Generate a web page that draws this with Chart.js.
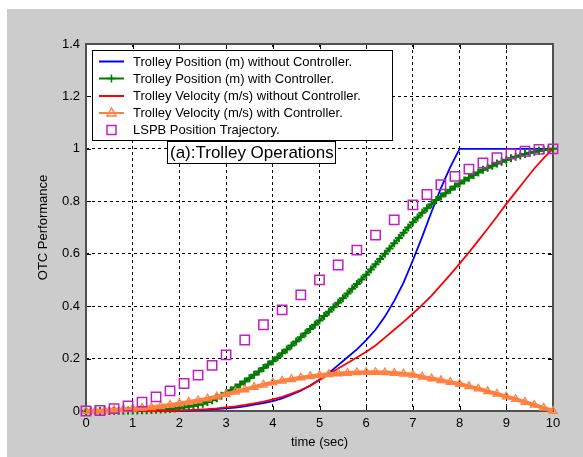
<!DOCTYPE html>
<html>
<head>
<meta charset="utf-8">
<script src="https://cdn.jsdelivr.net/npm/chart.js@4"></script>
<style>
  html, body { margin: 0; padding: 0; background: #fff; }
</style>
</head>
<body>
<canvas id="otcChart" width="583" height="457"></canvas>
<script>
// time bases (sec)
const timeFine = [0,0.1,0.2,0.3,0.4,0.5,0.6,0.7,0.8,0.9,
  1,1.1,1.2,1.3,1.4,1.5,1.6,1.7,1.8,1.9,
  2,2.1,2.2,2.3,2.4,2.5,2.6,2.7,2.8,2.9,
  3,3.1,3.2,3.3,3.4,3.5,3.6,3.7,3.8,3.9,
  4,4.1,4.2,4.3,4.4,4.5,4.6,4.7,4.8,4.9,
  5,5.1,5.2,5.3,5.4,5.5,5.6,5.7,5.8,5.9,
  6,6.1,6.2,6.3,6.4,6.5,6.6,6.7,6.8,6.9,
  7,7.1,7.2,7.3,7.4,7.5,7.6,7.7,7.8,7.9,
  8,8.1,8.2,8.3,8.4,8.5,8.6,8.7,8.8,8.9,
  9,9.1,9.2,9.3,9.4,9.5,9.6,9.7,9.8,9.9,
  10];
const timeCoarse = [0,0.2,0.4,0.6,0.8,1,1.2,1.4,1.6,1.8,
  2,2.2,2.4,2.6,2.8,3,3.2,3.4,3.6,3.8,
  4,4.2,4.4,4.6,4.8,5,5.2,5.4,5.6,5.8,
  6,6.2,6.4,6.6,6.8,7,7.2,7.4,7.6,7.8,
  8,8.2,8.4,8.6,8.8,9,9.2,9.4,9.6,9.8,
  10];
const lspbTime = [0,0.3,0.6,0.9,1.2,1.5,1.8,2.1,2.4,2.7,3,
  3.4,3.8,4.2,4.6,5,5.4,5.8,6.2,6.6,7,
  7.3,7.6,7.9,8.2,8.5,8.8,9.1,9.4,9.7,10];

// series
const posNoCtrl = [0,0,0,0,0,0,0,0,0,0.001,
  0.001,0.002,0.003,0.005,0.007,0.01,0.013,0.018,0.024,0.03,
  0.038,0.048,0.062,0.077,0.097,0.12,0.145,0.175,0.205,0.235,
  0.27,0.31,0.36,0.42,0.49,0.575,0.665,0.76,0.85,0.93,
  1,1,1,1,1,1,1,1,1,1,
  1];
const posWithCtrl = [0,0,0,0,0,0,0.001,0.001,0.001,0.002,
  0.002,0.002,0.003,0.003,0.004,0.005,0.006,0.007,0.008,0.01,
  0.012,0.014,0.017,0.02,0.024,0.028,0.034,0.041,0.049,0.058,
  0.068,0.079,0.09,0.101,0.113,0.125,0.138,0.151,0.164,0.177,
  0.19,0.205,0.22,0.235,0.25,0.265,0.281,0.297,0.313,0.329,
  0.345,0.362,0.379,0.396,0.413,0.43,0.448,0.466,0.484,0.502,
  0.52,0.54,0.56,0.58,0.6,0.62,0.64,0.66,0.68,0.7,
  0.72,0.738,0.756,0.773,0.789,0.805,0.818,0.831,0.844,0.856,
  0.868,0.879,0.89,0.9,0.91,0.92,0.928,0.936,0.944,0.951,
  0.958,0.964,0.97,0.975,0.98,0.985,0.989,0.993,0.996,0.998,
  1];
const velNoCtrl = [0,0,0,0,0,0,0,0,0,0.001,
  0.002,0.003,0.005,0.007,0.01,0.014,0.018,0.023,0.029,0.036,
  0.044,0.054,0.066,0.08,0.096,0.118,0.14,0.162,0.183,0.204,
  0.226,0.25,0.28,0.31,0.34,0.372,0.405,0.44,0.48,0.52,
  0.562,0.605,0.65,0.695,0.742,0.79,0.835,0.88,0.925,0.965,
  1];
const velWithCtrl = [0,0.001,0.002,0.004,0.006,0.008,0.011,0.014,0.018,0.023,
  0.028,0.034,0.04,0.047,0.055,0.064,0.073,0.082,0.091,0.1,
  0.108,0.115,0.121,0.127,0.132,0.136,0.14,0.143,0.145,0.147,
  0.148,0.148,0.147,0.145,0.142,0.138,0.13,0.124,0.117,0.11,
  0.103,0.094,0.085,0.075,0.065,0.055,0.045,0.034,0.023,0.012,
  0];
const lspbPos = [0,0.002,0.009,0.019,0.034,0.054,0.077,0.105,0.137,0.174,0.214,
  0.271,0.329,0.386,0.443,0.5,0.557,0.614,0.671,0.729,0.786,
  0.826,0.863,0.895,0.923,0.946,0.966,0.981,0.991,0.998,1];

const seriesNames = [
  'Trolley Position (m) without Controller.',
  'Trolley Position (m) with Controller.',
  'Trolley Velocity (m/s) without Controller.',
  'Trolley Velocity (m/s) with Controller.',
  'LSPB Position Trajectory.'
];
const xTickLabels = ['0','1','2','3','4','5','6','7','8','9','10'];
const yTickLabels = ['0','0.2','0.4','0.6','0.8','1','1.2','1.4'];
const panelNote = '(a):Trolley Operations';

const FONT = "'Liberation Sans', Arial, sans-serif";
Chart.defaults.font.family = FONT;
Chart.defaults.color = '#000';

function pairs(xs, ys) {
  return xs.map((t, i) => ({x: t, y: ys[i]}));
}

// marker helpers, used for the legend samples
function drawMarker(ctx, style, x, y, color) {
  ctx.save();
  ctx.strokeStyle = color;
  ctx.lineWidth = 1.5;
  ctx.beginPath();
  if (style === 'cross') {
    ctx.moveTo(x - 4, y); ctx.lineTo(x + 4, y);
    ctx.moveTo(x, y - 4); ctx.lineTo(x, y + 4);
  } else if (style === 'triangle') {
    ctx.moveTo(x, y - 5); ctx.lineTo(x + 4.5, y + 3); ctx.lineTo(x - 4.5, y + 3); ctx.closePath();
  } else if (style === 'rect') {
    ctx.rect(x - 4.5, y - 4.5, 9, 9);
  }
  ctx.stroke();
  ctx.restore();
}

const background = {
  id: 'background',
  beforeDraw(chart) {
    const {ctx, chartArea: a} = chart;
    ctx.save();
    ctx.fillStyle = '#fff';
    ctx.fillRect(0, 0, chart.width, chart.height);
    ctx.fillStyle = '#cccccc';
    ctx.fillRect(7, 9, chart.width - 7, chart.height - 9);
    ctx.fillStyle = '#fff';
    ctx.fillRect(a.left, a.top, a.right - a.left, a.bottom - a.top);
    ctx.restore();
  }
};

const frame = {
  id: 'frame',
  beforeDatasetsDraw(chart) {
    const {ctx, chartArea: a, scales} = chart;
    ctx.save();
    ctx.strokeStyle = '#000';
    ctx.lineWidth = 1;
    ctx.beginPath();
    for (let i = 1; i < xTickLabels.length - 1; i++) {
      const px = Math.round(scales.x.getPixelForValue(+xTickLabels[i])) + 0.5;
      ctx.moveTo(px, a.bottom); ctx.lineTo(px, a.bottom - 5);
      ctx.moveTo(px, a.top); ctx.lineTo(px, a.top + 5);
    }
    for (let i = 1; i < yTickLabels.length - 1; i++) {
      const py = Math.round(scales.y.getPixelForValue(+yTickLabels[i])) + 0.5;
      ctx.moveTo(a.left, py); ctx.lineTo(a.left + 5, py);
      ctx.moveTo(a.right, py); ctx.lineTo(a.right - 5, py);
    }
    ctx.stroke();
    ctx.strokeStyle = '#505050';
    ctx.lineWidth = 2;
    ctx.strokeRect(a.left, a.top, a.right - a.left, a.bottom - a.top);
    ctx.restore();
  }
};

const legendBox = {
  id: 'legendBox',
  afterDraw(chart) {
    const ctx = chart.ctx;
    const sets = chart.data.datasets;
    ctx.save();
    ctx.fillStyle = '#fff';
    ctx.fillRect(92, 50, 301, 91);
    ctx.strokeStyle = '#000';
    ctx.lineWidth = 1;
    ctx.strokeRect(92.5, 50.5, 300, 90);
    const rows = [61.5, 78.5, 96, 113, 130];
    ctx.font = '13px ' + FONT;
    ctx.textBaseline = 'middle';
    sets.forEach((ds, i) => {
      const y = rows[i];
      if (ds.showLine !== false) {
        ctx.strokeStyle = ds.borderColor;
        ctx.lineWidth = 2;
        ctx.beginPath();
        ctx.moveTo(99, y); ctx.lineTo(124, y);
        ctx.stroke();
      }
      if (ds.pointRadius > 0) drawMarker(ctx, ds.pointStyle, 111.5, y, ds.pointBorderColor);
      ctx.fillStyle = '#000';
      ctx.fillText(seriesNames[i], 133, y + 0.5);
    });

    // panel note
    ctx.fillStyle = '#fff';
    ctx.fillRect(167, 141, 169, 23);
    ctx.strokeStyle = '#000';
    ctx.lineWidth = 1;
    ctx.strokeRect(167.5, 141.5, 168, 22);
    ctx.fillStyle = '#000';
    ctx.font = '17px ' + FONT;
    ctx.fillText(panelNote, 170, 153);
    ctx.restore();
  }
};

new Chart(document.getElementById('otcChart'), {
  type: 'line',
  data: {
    datasets: [{
      data: pairs(timeCoarse, posNoCtrl),
      borderColor: '#0000ff',
      backgroundColor: '#0000ff',
      borderWidth: 1.8,
      pointRadius: 0,
      order: 4,
      clip: false
    }, {
      data: pairs(timeFine, posWithCtrl),
      borderColor: '#007a00',
      backgroundColor: '#007a00',
      borderWidth: 2.5,
      pointStyle: 'cross',
      pointRadius: 4,
      pointBorderWidth: 2,
      pointBorderColor: '#007a00',
      order: 3,
      clip: false
    }, {
      data: pairs(timeCoarse, velNoCtrl),
      borderColor: '#ff0000',
      backgroundColor: '#ff0000',
      borderWidth: 1.8,
      pointRadius: 0,
      order: 2,
      clip: false
    }, {
      data: pairs(timeCoarse, velWithCtrl),
      borderColor: '#ff8040',
      backgroundColor: 'rgba(255,255,255,0)',
      borderWidth: 4,
      pointStyle: 'triangle',
      pointRadius: 4.5,
      pointBorderWidth: 1.3,
      pointBorderColor: '#ff8040',
      pointBackgroundColor: 'rgba(255,255,255,0)',
      order: 1,
      clip: false
    }, {
      data: pairs(lspbTime, lspbPos),
      showLine: false,
      borderColor: '#c020c0',
      backgroundColor: 'rgba(255,255,255,0)',
      pointStyle: 'rect',
      pointRadius: 6.6,
      pointBorderWidth: 1.5,
      pointBorderColor: '#c020c0',
      pointBackgroundColor: 'rgba(255,255,255,0)',
      order: 0,
      clip: false
    }]
  },
  options: {
    responsive: false,
    animation: false,
    events: [],
    layout: { padding: { left: 0, top: 44, right: 30, bottom: 0 } },
    plugins: {
      legend: { display: false },
      tooltip: { enabled: false }
    },
    scales: {
      x: {
        type: 'linear',
        min: 0,
        max: 10,
        afterFit: s => { s.height = 46; },
        ticks: {
          stepSize: 1,
          padding: 5,
          font: { size: 13 },
          maxRotation: 0,
          callback: v => xTickLabels[Math.round(v)]
        },
        grid: { color: '#000', lineWidth: 1, drawTicks: false },
        border: { display: false, dash: [3, 3] },
        title: {
          display: true,
          text: 'time (sec)',
          font: { size: 13 },
          padding: { top: 0, bottom: 7 }
        }
      },
      y: {
        min: 0,
        max: 1.4,
        afterFit: s => { s.width = 86; },
        ticks: {
          stepSize: 0.2,
          padding: 6,
          font: { size: 13 },
          callback: v => yTickLabels[Math.round(v / 0.2)]
        },
        grid: { color: '#000', lineWidth: 1, drawTicks: false },
        border: { display: false, dash: [3, 3] },
        title: {
          display: true,
          text: 'OTC Performance',
          font: { size: 13 },
          padding: { top: 36, bottom: 0 }
        }
      }
    }
  },
  plugins: [background, frame, legendBox]
});
</script>
</body>
</html>
